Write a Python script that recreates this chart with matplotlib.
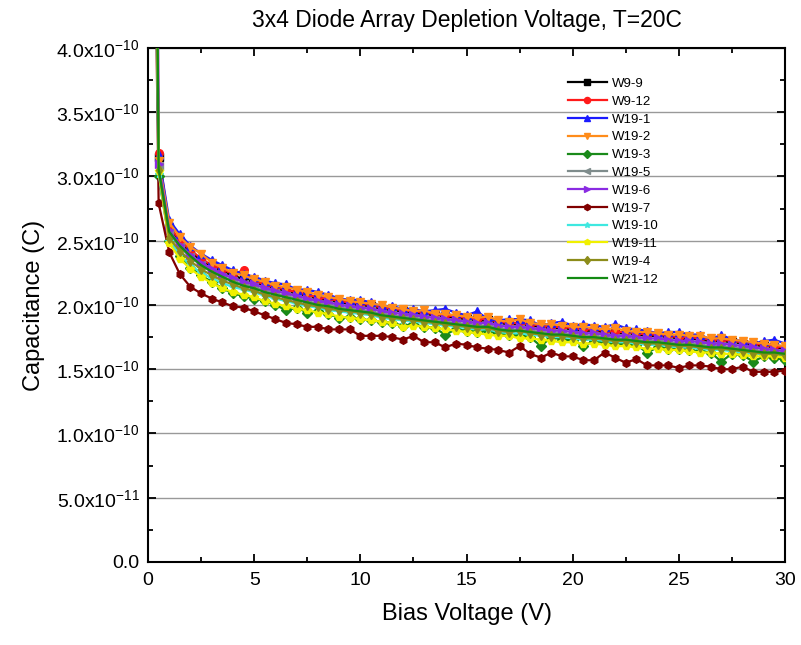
import numpy as np
import matplotlib
matplotlib.use("Agg")
import matplotlib.pyplot as plt
from matplotlib.ticker import MultipleLocator

plt.rcParams['font.family'] = ['Liberation Sans', 'DejaVu Sans']
plt.rcParams['mathtext.default'] = 'regular'

# bias voltage, 0 .. 30 V in 0.5 V steps
bias = np.arange(0, 30.01, 0.5)

# capacitance values, units of 1e-10 (first point at 0 V is off scale)
w9_9 = [11.0,
        3.15, 2.60, 2.49, 2.41, 2.35, 2.30, 2.26, 2.23, 2.20, 2.18,
        2.15, 2.13, 2.11, 2.09, 2.07, 2.05, 2.04, 2.02, 2.01, 2.00,
        1.99, 1.97, 1.96, 1.95, 1.94, 1.93, 1.92, 1.91, 1.90, 1.89,
        1.88, 1.88, 1.86, 1.85, 1.85, 1.84, 1.83, 1.82, 1.82, 1.81,
        1.80, 1.80, 1.79, 1.78, 1.78, 1.77, 1.76, 1.76, 1.75, 1.74,
        1.74, 1.73, 1.72, 1.72, 1.71, 1.70, 1.69, 1.68, 1.67, 1.66]
w9_12 = [15.0,
         3.18, 2.62, 2.50, 2.43, 2.36, 2.31, 2.28, 2.24, 2.27, 2.19,
         2.16, 2.14, 2.12, 2.10, 2.08, 2.06, 2.05, 2.03, 2.02, 2.01,
         2.00, 1.98, 1.97, 1.96, 1.95, 1.94, 1.93, 1.92, 1.91, 1.90,
         1.89, 1.89, 1.87, 1.86, 1.86, 1.85, 1.84, 1.83, 1.83, 1.82,
         1.81, 1.81, 1.80, 1.79, 1.79, 1.78, 1.77, 1.77, 1.76, 1.75,
         1.75, 1.74, 1.73, 1.73, 1.72, 1.71, 1.70, 1.69, 1.68, 1.67]
w19_1 = [12.0,
         3.17, 2.66, 2.55, 2.46, 2.40, 2.35, 2.31, 2.27, 2.24, 2.22,
         2.19, 2.17, 2.16, 2.12, 2.12, 2.10, 2.08, 2.05, 2.04, 2.04,
         2.02, 1.99, 1.99, 1.97, 1.97, 1.95, 1.96, 1.97, 1.94, 1.92,
         1.95, 1.89, 1.88, 1.89, 1.89, 1.88, 1.84, 1.86, 1.87, 1.84,
         1.85, 1.84, 1.83, 1.85, 1.82, 1.81, 1.80, 1.78, 1.79, 1.79,
         1.77, 1.77, 1.73, 1.77, 1.73, 1.72, 1.70, 1.72, 1.73, 1.70]
w19_2 = [10.0,
         3.12, 2.64, 2.53, 2.45, 2.40, 2.33, 2.29, 2.25, 2.23, 2.20,
         2.18, 2.15, 2.14, 2.12, 2.10, 2.08, 2.06, 2.05, 2.03, 2.02,
         2.01, 2.00, 1.98, 1.97, 1.95, 1.96, 1.93, 1.93, 1.92, 1.91,
         1.90, 1.91, 1.88, 1.87, 1.89, 1.86, 1.85, 1.85, 1.84, 1.83,
         1.83, 1.82, 1.81, 1.82, 1.80, 1.79, 1.79, 1.78, 1.77, 1.77,
         1.76, 1.76, 1.74, 1.74, 1.73, 1.72, 1.71, 1.70, 1.69, 1.68]
w19_3 = [11.0,
         3.00, 2.50, 2.38, 2.29, 2.23, 2.18, 2.13, 2.09, 2.07, 2.05,
         2.03, 2.00, 1.96, 1.98, 1.94, 1.95, 1.93, 1.90, 1.91, 1.89,
         1.88, 1.87, 1.86, 1.84, 1.85, 1.83, 1.82, 1.77, 1.81, 1.80,
         1.79, 1.80, 1.78, 1.77, 1.76, 1.75, 1.68, 1.75, 1.73, 1.73,
         1.68, 1.72, 1.71, 1.70, 1.70, 1.69, 1.63, 1.67, 1.66, 1.66,
         1.65, 1.64, 1.63, 1.56, 1.62, 1.61, 1.56, 1.60, 1.59, 1.57]
w19_5 = [12.0,
         3.08, 2.56, 2.45, 2.37, 2.31, 2.26, 2.22, 2.19, 2.16, 2.14,
         2.11, 2.09, 2.07, 2.05, 2.03, 2.01, 2.00, 1.98, 1.97, 1.96,
         1.95, 1.93, 1.92, 1.91, 1.90, 1.89, 1.88, 1.87, 1.86, 1.85,
         1.84, 1.84, 1.82, 1.81, 1.81, 1.80, 1.79, 1.78, 1.78, 1.77,
         1.76, 1.76, 1.75, 1.74, 1.74, 1.73, 1.72, 1.72, 1.71, 1.70,
         1.70, 1.69, 1.68, 1.68, 1.67, 1.66, 1.65, 1.64, 1.63, 1.63]
w19_6 = [25.0,
         3.10, 2.58, 2.47, 2.39, 2.33, 2.28, 2.24, 2.21, 2.18, 2.16,
         2.13, 2.11, 2.09, 2.07, 2.05, 2.03, 2.02, 2.00, 1.99, 1.98,
         1.97, 1.95, 1.94, 1.93, 1.92, 1.91, 1.90, 1.89, 1.88, 1.87,
         1.86, 1.86, 1.84, 1.83, 1.83, 1.82, 1.81, 1.80, 1.80, 1.79,
         1.78, 1.78, 1.77, 1.76, 1.76, 1.75, 1.74, 1.74, 1.73, 1.72,
         1.72, 1.71, 1.70, 1.70, 1.69, 1.68, 1.67, 1.66, 1.65, 1.64]
w19_7 = [9.0,
         2.79, 2.41, 2.24, 2.14, 2.09, 2.05, 2.02, 1.99, 1.98, 1.95,
         1.92, 1.89, 1.86, 1.85, 1.83, 1.83, 1.81, 1.81, 1.81, 1.76,
         1.76, 1.76, 1.75, 1.73, 1.76, 1.71, 1.71, 1.67, 1.70, 1.69,
         1.67, 1.66, 1.65, 1.63, 1.68, 1.62, 1.59, 1.63, 1.60, 1.60,
         1.57, 1.57, 1.63, 1.59, 1.55, 1.58, 1.53, 1.53, 1.53, 1.51,
         1.53, 1.53, 1.52, 1.50, 1.50, 1.52, 1.48, 1.48, 1.48, 1.49]
w19_10 = [9.0,
          3.02, 2.50, 2.39, 2.31, 2.25, 2.21, 2.17, 2.14, 2.12, 2.10,
          2.07, 2.05, 2.03, 2.01, 1.99, 1.98, 1.96, 1.95, 1.94, 1.93,
          1.92, 1.90, 1.89, 1.88, 1.87, 1.86, 1.85, 1.84, 1.83, 1.82,
          1.81, 1.81, 1.79, 1.78, 1.78, 1.77, 1.76, 1.75, 1.75, 1.74,
          1.73, 1.73, 1.72, 1.71, 1.71, 1.70, 1.69, 1.69, 1.68, 1.67,
          1.67, 1.66, 1.65, 1.65, 1.64, 1.63, 1.62, 1.62, 1.61, 1.60]
w19_11 = [13.0,
          3.04, 2.48, 2.36, 2.28, 2.22, 2.17, 2.13, 2.10, 2.08, 2.06,
          2.03, 2.01, 1.99, 1.97, 1.96, 1.94, 1.93, 1.91, 1.90, 1.89,
          1.88, 1.87, 1.86, 1.83, 1.84, 1.83, 1.82, 1.81, 1.80, 1.79,
          1.78, 1.77, 1.76, 1.76, 1.74, 1.74, 1.73, 1.72, 1.71, 1.71,
          1.70, 1.70, 1.69, 1.68, 1.68, 1.67, 1.66, 1.66, 1.65, 1.65,
          1.64, 1.63, 1.63, 1.62, 1.62, 1.61, 1.60, 1.60, 1.60, 1.59]
w19_4 = [10.0,
         3.05, 2.52, 2.42, 2.34, 2.28, 2.23, 2.19, 2.16, 2.13, 2.11,
         2.08, 2.06, 2.04, 2.02, 2.00, 1.99, 1.97, 1.96, 1.95, 1.94,
         1.93, 1.91, 1.90, 1.89, 1.88, 1.87, 1.86, 1.85, 1.84, 1.83,
         1.82, 1.82, 1.80, 1.79, 1.80, 1.78, 1.77, 1.76, 1.76, 1.75,
         1.74, 1.74, 1.73, 1.72, 1.72, 1.71, 1.70, 1.70, 1.69, 1.68,
         1.68, 1.67, 1.66, 1.66, 1.65, 1.64, 1.63, 1.62, 1.62, 1.61]
w21_12 = [14.0,
          3.06, 2.57, 2.46, 2.38, 2.31, 2.26, 2.22, 2.18, 2.15, 2.13,
          2.10, 2.08, 2.06, 2.04, 2.02, 2.00, 1.99, 1.97, 1.96, 1.95,
          1.94, 1.92, 1.91, 1.90, 1.89, 1.88, 1.87, 1.86, 1.85, 1.84,
          1.83, 1.83, 1.81, 1.80, 1.80, 1.79, 1.78, 1.77, 1.77, 1.76,
          1.75, 1.75, 1.74, 1.73, 1.73, 1.72, 1.71, 1.71, 1.70, 1.69,
          1.69, 1.68, 1.67, 1.67, 1.66, 1.65, 1.64, 1.63, 1.63, 1.62]

names = ['W9-9', 'W9-12', 'W19-1', 'W19-2', 'W19-3', 'W19-5',
         'W19-6', 'W19-7', 'W19-10', 'W19-11', 'W19-4', 'W21-12']
series = [w9_9, w9_12, w19_1, w19_2, w19_3, w19_5,
          w19_6, w19_7, w19_10, w19_11, w19_4, w21_12]

ytick_labels = ['0.0', r'5.0x10$^{-11}$', r'1.0x10$^{-10}$', r'1.5x10$^{-10}$',
                r'2.0x10$^{-10}$', r'2.5x10$^{-10}$', r'3.0x10$^{-10}$',
                r'3.5x10$^{-10}$', r'4.0x10$^{-10}$']

colors = ['#000000', '#ff1a1a', '#1a1aff', '#ff8c1a', '#1a8a1a', '#7f8c8c',
          '#8a2be2', '#800000', '#3ee8e0', '#f0f000', '#8c8c1a', '#138a13']
markers = ['s', 'o', '^', 'v', 'D', '<', '>', 'h', '*', 'p', 'd', '']

fig = plt.figure(figsize=(8.01, 6.45), dpi=100)
ax = fig.add_axes([0.1848, 0.1287, 0.7952, 0.7969])

for name, vals, c, m in zip(names, series, colors, markers):
    ax.plot(bias, np.array(vals) * 1e-10, color=c, marker=m, markersize=5.5,
            linewidth=1.6, label=name, zorder=3)

ax.set_xlim(0, 30)
ax.set_ylim(0, 4.0e-10)
yt = np.arange(0, 4.01e-10, 0.5e-10)
ax.set_yticks(yt)
ax.set_yticklabels(ytick_labels)
ax.xaxis.set_major_locator(MultipleLocator(5))
ax.xaxis.set_minor_locator(MultipleLocator(2.5))
ax.yaxis.set_minor_locator(MultipleLocator(0.25e-10))
ax.tick_params(which='both', direction='in', top=True, right=True,
               labelsize=14, width=1.3)
ax.tick_params(axis='x', pad=7)
ax.tick_params(axis='y', pad=6)
ax.tick_params(which='major', length=6)
ax.tick_params(which='minor', length=3.5)
ax.yaxis.grid(True, color='#999999', linewidth=1.0, zorder=0)
ax.set_axisbelow(True)
for s in ax.spines.values():
    s.set_linewidth(1.5)

ax.set_xlabel('Bias Voltage (V)', fontsize=17, labelpad=10)
ax.set_ylabel('Capacitance (C)', fontsize=17, labelpad=8)
ax.set_title('3x4 Diode Array Depletion Voltage, T=20C', fontsize=16.5, pad=15)

ax.legend(loc='upper left', bbox_to_anchor=(0.64, 0.965), frameon=False,
          fontsize=9.5, handlelength=3.0, labelspacing=0.42, handletextpad=0.4,
          markerscale=0.8)

fig.savefig('out.png', dpi=100)
